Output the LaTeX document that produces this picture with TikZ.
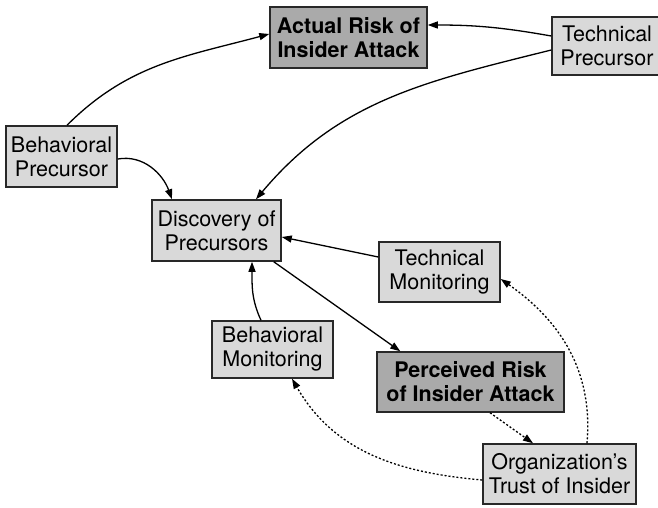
\documentclass[tikz,border=0pt]{standalone}
\usepackage{fontspec}
\setmainfont{TeX Gyre Heros}
\usetikzlibrary{arrows.meta}
\definecolor{lightbox}{RGB}{217,217,217}
\definecolor{darkbox}{RGB}{170,170,170}
\definecolor{edgegray}{RGB}{40,40,40}
\begin{document}
\begin{tikzpicture}[x=1pt,y=1pt,
  box/.style={draw=edgegray, line width=1.5pt, fill=lightbox, rectangle, inner sep=0pt,
    align=center, font=\fontsize{21.5}{24}\selectfont},
  darkbox/.style={box, fill=darkbox, font=\fontsize{21.5}{24}\selectfont\bfseries},
  conn/.style={line width=1.3pt, -{Triangle[length=10pt,width=7pt]}},
  dotconn/.style={conn, dash pattern=on 2pt off 2pt}
]
\useasboundingbox (0,0) rectangle (658,507);
\node[darkbox, minimum width=157pt, minimum height=61pt] (AR) at (348.5,469.5) {Actual Risk of\\Insider Attack};
\node[box, minimum width=110pt, minimum height=58pt] (TP) at (607,461) {Technical\\Precursor};
\node[box, minimum width=111pt, minimum height=61pt] (BP) at (61.5,350.5) {Behavioral\\Precursor};
\node[box, minimum width=129pt, minimum height=61pt] (DP) at (216.5,276.5) {Discovery of\\Precursors};
\node[box, minimum width=121pt, minimum height=60pt] (TM) at (439.5,235) {Technical\\Monitoring};
\node[box, minimum width=121pt, minimum height=57pt] (BM) at (272.5,157.5) {Behavioral\\Monitoring};
\node[darkbox, minimum width=187pt, minimum height=60pt] (PR) at (470.5,125) {Perceived Risk\\of Insider Attack};
\node[box, minimum width=153pt, minimum height=60pt] (OT) at (559.5,33) {Organization’s\\Trust of Insider};

\draw[conn] ([xshift=5.5pt]BP.north) to[out=45,in=195] ([yshift=3.5pt]AR.west);
\draw[conn] ([yshift=10pt]TP.west) to[out=170,in=0] ([yshift=12.5pt]AR.east);
\draw[conn] ([yshift=-4pt]TP.west) to[out=194,in=50] ([xshift=39.5pt]DP.north);
\draw[conn] ([yshift=-2.5pt]BP.east) to[out=10,in=110] ([xshift=-44.5pt]DP.north);
\draw[conn] ([yshift=15pt]TM.west) -- ([yshift=-6.5pt]DP.east);
\draw[conn] ([xshift=-8pt]DP.south east) -- ([xshift=24pt]PR.north west);
\draw[conn] ([xshift=-11.5pt]BM.north) to[out=115,in=-90] ([xshift=35.5pt]DP.south);
\draw[dotconn] ([xshift=19.5pt]PR.south) -- ([xshift=-26.5pt]OT.north);
\draw[dotconn] ([xshift=27.5pt]OT.north) to[out=85,in=-35] ([yshift=-7pt]TM.east);
\draw[dotconn] ([yshift=-6pt]OT.west) to[out=175,in=-60] ([xshift=19.5pt]BM.south);
\end{tikzpicture}
\end{document}
